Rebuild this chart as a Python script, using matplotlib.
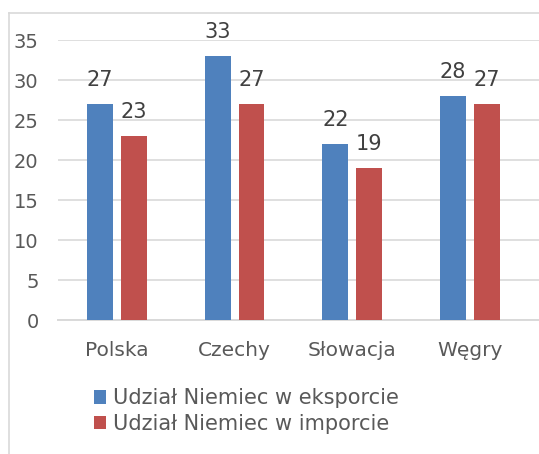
import matplotlib
matplotlib.use("Agg")
import matplotlib.pyplot as plt
from matplotlib.lines import Line2D
import numpy as np

countries = ["Polska", "Czechy", "Słowacja", "Węgry"]
export_share = [27, 33, 22, 28]
import_share = [23, 27, 19, 27]
series_names = ["Udział Niemiec w eksporcie", "Udział Niemiec w imporcie"]
y_ticks = [0, 5, 10, 15, 20, 25, 30, 35]

BLUE = "#4F81BD"
RED = "#C0504D"
GRID = "#D9D9D9"
TICK_COL = "#595959"
LABEL_COL = "#404040"

plt.rcParams["font.family"] = ["DejaVu Sans"]

W, H = 539, 454
fig = plt.figure(figsize=(W / 100, H / 100), dpi=100)
ax = fig.add_axes([58 / W, 1 - 320 / H, (W - 58) / W, 280 / H])

x = np.arange(len(countries))
width = 0.22
offset = 0.144

bars_e = ax.bar(x - offset, export_share, width, color=BLUE, label=series_names[0], zorder=3)
bars_i = ax.bar(x + offset, import_share, width, color=RED, label=series_names[1], zorder=3)

for bars in (bars_e, bars_i):
    for b in bars:
        ax.annotate(f"{b.get_height():.0f}", (b.get_x() + b.get_width() / 2, b.get_height()),
                    xytext=(0, 13), textcoords="offset points", ha="center", va="baseline",
                    fontsize=15, color=LABEL_COL)

ax.set_xlim(-0.5, 3.586)
ax.set_ylim(0, 35)
ax.set_yticks(y_ticks)
ax.set_xticks(x)
ax.set_xticklabels(countries)
ax.tick_params(axis="y", length=0, pad=14, labelsize=14, labelcolor=TICK_COL)
ax.tick_params(axis="x", length=0, pad=15, labelsize=14.5, labelcolor=TICK_COL)
ax.grid(axis="y", color=GRID, linewidth=1.2, zorder=0)
for s in ax.spines.values():
    s.set_visible(False)
ax.axhline(0, color=GRID, linewidth=1.4, zorder=2, clip_on=False)

# chart frame (left and top edges visible)
fig.add_artist(Line2D([9 / W, 9 / W], [0, 1 - 13 / H], transform=fig.transFigure, color=GRID, lw=1.2))
fig.add_artist(Line2D([9 / W, 1], [1 - 13 / H, 1 - 13 / H], transform=fig.transFigure, color=GRID, lw=1.2))

fig.legend(handles=[bars_e, bars_i], labels=series_names, loc="center left",
           bbox_to_anchor=(94 / W, 1 - 411 / H), frameon=False, fontsize=15,
           handlelength=0.6, handleheight=0.6, handletextpad=0.3, labelspacing=0.25,
           borderpad=0, borderaxespad=0, labelcolor=TICK_COL)

fig.savefig("out.png", dpi=100)
